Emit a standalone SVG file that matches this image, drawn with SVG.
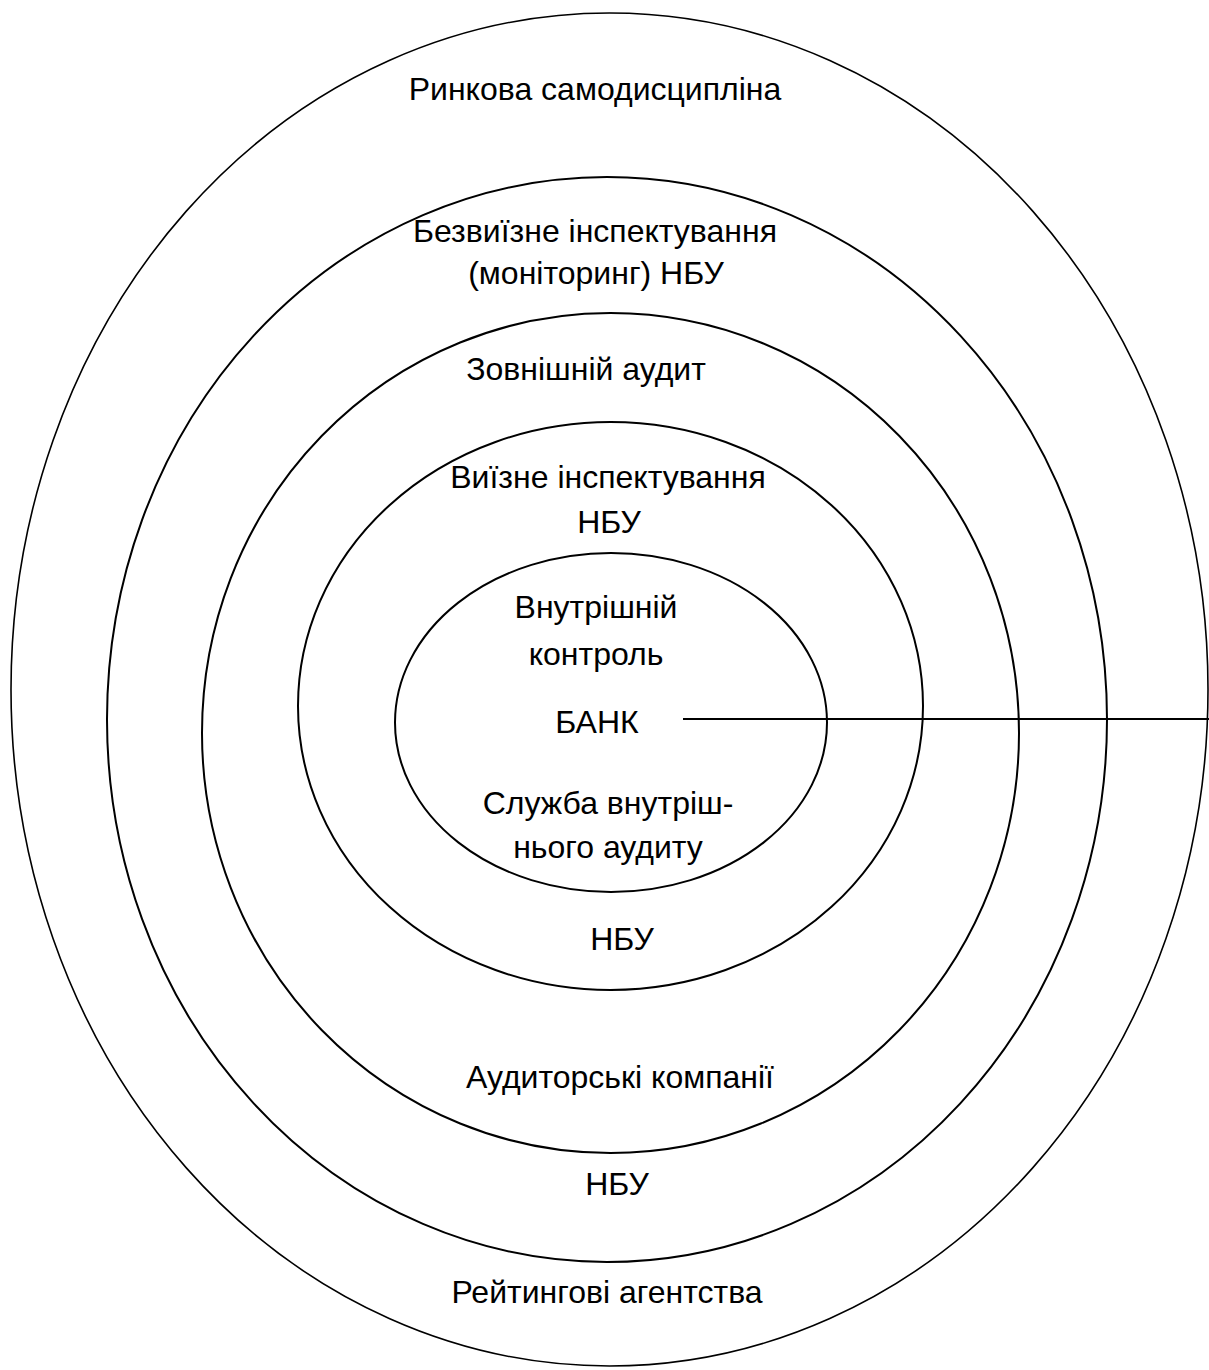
<svg xmlns="http://www.w3.org/2000/svg" width="1209" height="1370" viewBox="0 0 1209 1370">
<style>
.ring{fill:none;stroke:#000;stroke-width:2}
.t{font-family:"Liberation Sans",Arial,sans-serif;font-size:32px;fill:#000;text-anchor:middle}
</style>
<rect width="1209" height="1370" fill="#fff"/>
<g id="ring1">
<ellipse class="ring" cx="609.5" cy="689.5" rx="598.5" ry="676.5" style="stroke-width:1.6"/>
<text class="t" x="595" y="100">Ринкова самодисципліна</text>
<text class="t" x="607" y="1303">Рейтингові агентства</text>
</g>
<g id="ring2">
<ellipse class="ring" cx="607" cy="719.5" rx="500" ry="542.5"/>
<text class="t" x="595" y="242">Безвиїзне інспектування</text>
<text class="t" x="596" y="284">(моніторинг) НБУ</text>
<text class="t" x="617" y="1195">НБУ</text>
</g>
<g id="ring3">
<ellipse class="ring" cx="610.5" cy="733" rx="408.5" ry="420"/>
<text class="t" x="586" y="380">Зовнішній аудит</text>
<text class="t" x="620" y="1088">Аудиторські компанії</text>
</g>
<g id="ring4">
<ellipse class="ring" cx="610.5" cy="706" rx="312.5" ry="284"/>
<text class="t" x="608" y="488">Виїзне інспектування</text>
<text class="t" x="609" y="533">НБУ</text>
<text class="t" x="622" y="950">НБУ</text>
</g>
<g id="bank">
<ellipse class="ring" cx="611" cy="722.5" rx="216" ry="169.5"/>
<text class="t" x="596" y="618">Внутрішній</text>
<text class="t" x="596" y="665">контроль</text>
<text class="t" x="597" y="733">БАНК</text>
<text class="t" x="608" y="814">Служба внутріш-</text>
<text class="t" x="608" y="858">нього аудиту</text>
</g>
<g id="connectors">
<line x1="683" y1="719" x2="1209" y2="719" stroke="#000" stroke-width="2"/>
</g>
</svg>
